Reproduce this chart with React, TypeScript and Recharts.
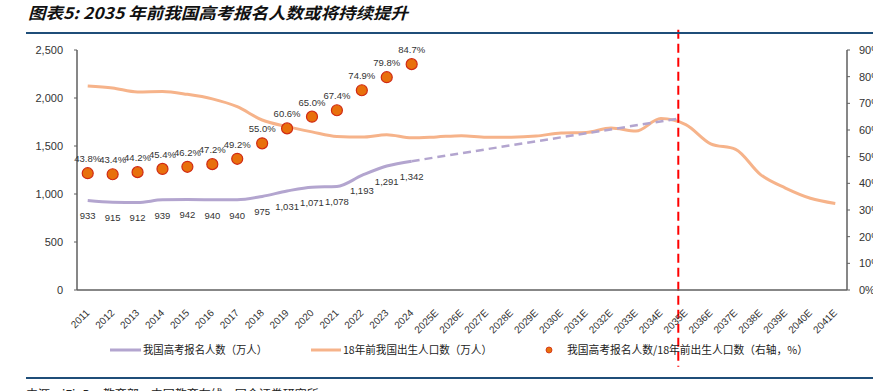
import React from 'react';
import { ComposedChart, Line, XAxis, YAxis, ReferenceLine, LabelList } from 'recharts';

const years = [
  '2011', '2012', '2013', '2014', '2015', '2016', '2017', '2018', '2019', '2020',
  '2021', '2022', '2023', '2024', '2025E', '2026E', '2027E', '2028E', '2029E', '2030E',
  '2031E', '2032E', '2033E', '2034E', '2035E', '2036E', '2037E', '2038E', '2039E', '2040E', '2041E',
];
// 我国高考报名人数（万人）
const examCount = [933, 915, 912, 939, 942, 940, 940, 975, 1031, 1071, 1078, 1193, 1291, 1342];
// 18年前我国出生人口数（万人）
const births18 = [
  2126, 2104, 2063, 2067, 2038, 1991, 1909, 1771, 1702, 1647, 1599, 1593, 1617, 1585,
  1595, 1608, 1591, 1592, 1604, 1635, 1640, 1687, 1655, 1786, 1723, 1523, 1465, 1202, 1062, 956, 902,
];
// 比值（右轴，%）
const ratio = [43.8, 43.4, 44.2, 45.4, 46.2, 47.2, 49.2, 55.0, 60.6, 65.0, 67.4, 74.9, 79.8, 84.7];
// 预测虚线：从2024年实际值延伸至2035年前的峰值（位置以年份序号计，介于2034E与2035E之间）
const projPositions = [13, 23.7];
const projValues = [1342, 1785];
const markerPosition = 23.7;

const leftTicks = [0, 500, 1000, 1500, 2000, 2500];
const rightTicks = [0, 10, 20, 30, 40, 50, 60, 70, 80, 90];

const title = '图表5:  2035 年前我国高考报名人数或将持续提升';
const legendNames = ['我国高考报名人数（万人）', '18年前我国出生人口数（万人）', '我国高考报名人数/18年前出生人口数（右轴，%）'];
const sourceText = '来源：iFinD，教育部，中国教育在线，国金证券研究所';

const data = years.map((y, i) => ({
  idx: i,
  year: y,
  exam: i < examCount.length ? examCount[i] : null,
  births: births18[i],
  ratio: i < ratio.length ? ratio[i] : null,
}));
const projData = projPositions.map((p, i) => ({ idx: p, proj: projValues[i] }));

const PURPLE = '#B3A5CF';
const ORANGE = '#F6B38A';
const AXIS = '#5f5f5f';
const LATIN = '"Liberation Sans", Arial, sans-serif';
const CJK = '"Noto Sans CJK SC", "Liberation Sans", sans-serif';

const XTick = (props: any) => {
  const { x, y, payload } = props;
  const label = years[Math.round(payload.value)] ?? '';
  return (
    <g transform={`translate(${x},${y + 13}) rotate(-45)`}>
      <text x={0} y={0} dy="0.35em" textAnchor="end" fontSize={10} fill="#333" fontFamily={LATIN}>
        {label}
      </text>
    </g>
  );
};

const RatioDot = (props: any) => {
  const { cx, cy, value } = props;
  if (value == null || cx == null || cy == null) return null;
  return <circle cx={cx} cy={cy} r={5.5} fill="#E8700C" stroke="#D02A14" strokeWidth={1.2} />;
};

export default function App() {
  return (
    <div style={{ position: 'absolute', left: 0, top: 0, width: 873, height: 391, background: '#fff', overflow: 'hidden' }}>
      <ComposedChart width={873} height={391} data={data} margin={{ top: 50, right: 0, bottom: 0, left: 0 }}>
        <XAxis
          dataKey="idx"
          type="number"
          domain={[-0.43, 30.47]}
          allowDataOverflow
          ticks={years.map((_, i) => i)}
          height={101}
          tick={<XTick />}
          tickLine={false}
          axisLine={{ stroke: AXIS, strokeWidth: 1.5 }}
          interval={0}
        />
        <YAxis
          yAxisId="left"
          width={77}
          domain={[0, 2500]}
          ticks={leftTicks}
          tickFormatter={(v: number) => v.toLocaleString('en-US')}
          tick={{ fontSize: 11, fill: '#333', fontFamily: LATIN }}
          tickSize={3}
          tickMargin={11}
          tickLine={{ stroke: AXIS }}
          axisLine={{ stroke: AXIS, strokeWidth: 1.5 }}
        />
        <YAxis
          yAxisId="right"
          orientation="right"
          width={26}
          domain={[0, 90]}
          ticks={rightTicks}
          tickFormatter={(v: number) => `${v}%`}
          tick={{ fontSize: 11, fill: '#333', fontFamily: LATIN, textAnchor: 'start' }}
          tickSize={3}
          tickMargin={9}
          tickLine={{ stroke: AXIS }}
          axisLine={{ stroke: AXIS, strokeWidth: 1.5 }}
        />
        <Line
          yAxisId="left"
          type="monotone"
          dataKey="births"
          stroke={ORANGE}
          strokeWidth={3}
          dot={false}
          activeDot={false}
          isAnimationActive={false}
        />
        <Line
          yAxisId="left"
          type="linear"
          data={projData}
          dataKey="proj"
          stroke={PURPLE}
          strokeWidth={2.5}
          strokeDasharray="8 5"
          dot={false}
          activeDot={false}
          isAnimationActive={false}
        />
        <Line
          yAxisId="left"
          type="monotone"
          dataKey="exam"
          stroke={PURPLE}
          strokeWidth={3}
          dot={false}
          activeDot={false}
          isAnimationActive={false}
        >
          <LabelList
            dataKey="exam"
            position="bottom"
            offset={12}
            fontSize={9.5}
            fill="#333"
            fontFamily={LATIN}
            formatter={(v: any) => (v == null ? '' : Number(v).toLocaleString('en-US'))}
          />
        </Line>
        <Line
          yAxisId="right"
          dataKey="ratio"
          stroke="none"
          strokeWidth={0}
          dot={<RatioDot />}
          activeDot={false}
          isAnimationActive={false}
        >
          <LabelList
            dataKey="ratio"
            position="top"
            offset={11}
            fontSize={9.5}
            fill="#333"
            fontFamily={LATIN}
            formatter={(v: any) => (v == null ? '' : `${Number(v).toFixed(1)}%`)}
          />
        </Line>
        <ReferenceLine
          yAxisId="left"
          segment={[{ x: markerPosition, y: 2710 }, { x: markerPosition, y: -800 }]}
          ifOverflow="visible"
          stroke="#FF0000"
          strokeWidth={2}
          strokeDasharray="9 5"
        />
      </ComposedChart>
      <svg width={873} height={391} style={{ position: 'absolute', left: 0, top: 0, pointerEvents: 'none' }}>
        <text x={28} y={19} fontSize={16} fontWeight="bold" fontStyle="italic" fill="#111" fontFamily={CJK}
          textLength={380} lengthAdjust="spacingAndGlyphs">{title}</text>
        <line x1={26} y1={33} x2={873} y2={33} stroke="#1F4E79" strokeWidth={2} />
        <line x1={110} y1={350} x2={141} y2={350} stroke={PURPLE} strokeWidth={3} />
        <text x={143} y={350} dy="0.35em" fontSize={11} fill="#222" fontFamily={CJK}
          textLength={124} lengthAdjust="spacingAndGlyphs">{legendNames[0]}</text>
        <line x1={311} y1={350} x2={341} y2={350} stroke={ORANGE} strokeWidth={3} />
        <text x={343} y={350} dy="0.35em" fontSize={11} fill="#222" fontFamily={CJK}
          textLength={149} lengthAdjust="spacingAndGlyphs">{legendNames[1]}</text>
        <circle cx={549} cy={350} r={3} fill="#E8700C" stroke="#D02A14" strokeWidth={0.8} />
        <text x={567} y={350} dy="0.35em" fontSize={11} fill="#222" fontFamily={CJK}
          textLength={241} lengthAdjust="spacingAndGlyphs">{legendNames[2]}</text>
        <line x1={26} y1={378} x2={873} y2={378} stroke="#1F4E79" strokeWidth={2} />
        <text x={26} y={399} fontSize={12} fill="#222" fontFamily={CJK}>{sourceText}</text>
      </svg>
    </div>
  );
}
